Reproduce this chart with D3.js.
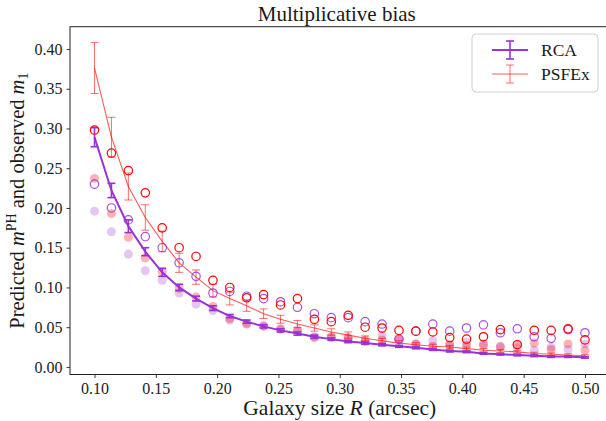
<!DOCTYPE html>
<meta charset='utf-8'>
<style>
  body { margin: 0; background: #fff; }
  text { font-family: "Liberation Serif", "DejaVu Serif", serif; fill: #1a1a1a; }
</style>

<svg width="606" height="421"></svg>

<script src="https://d3js.org/d3.v7.min.js"></script>
<script>

// galaxy size R (arcsec)
var sizes = [0.1000, 0.1138, 0.1276, 0.1414, 0.1552, 0.1690, 0.1828, 0.1966, 0.2103, 0.2241,
             0.2379, 0.2517, 0.2655, 0.2793, 0.2931, 0.3069, 0.3207, 0.3345, 0.3483, 0.3621,
             0.3759, 0.3897, 0.4034, 0.4172, 0.4310, 0.4448, 0.4586, 0.4724, 0.4862, 0.5000];

// predicted m^PH, RCA
var rcaPred = [0.289, 0.222, 0.177, 0.145, 0.119, 0.100, 0.086, 0.074, 0.064, 0.057,
               0.051, 0.046, 0.042, 0.038, 0.035, 0.032, 0.030, 0.028, 0.026, 0.024,
               0.022, 0.020, 0.019, 0.017, 0.016, 0.015, 0.014, 0.013, 0.013, 0.012];
var rcaErr  = [0.012, 0.009, 0.008, 0.005, 0.005, 0.004, 0.003, 0.003, 0.002, 0.002,
               0.002, 0.002, 0.002, 0.002, 0.0015, 0.0015, 0.0015, 0.0015, 0.0012, 0.0012,
               0.0012, 0.0012, 0.001, 0.001, 0.001, 0.001, 0.001, 0.001, 0.001, 0.001];

// predicted m^PH, PSFEx
var psfPred = [0.376, 0.289, 0.227, 0.188, 0.158, 0.131, 0.113, 0.096, 0.086, 0.077,
               0.067, 0.060, 0.054, 0.049, 0.044, 0.040, 0.036, 0.033, 0.030, 0.028,
               0.026, 0.025, 0.023, 0.021, 0.020, 0.019, 0.017, 0.016, 0.015, 0.014];
var psfErr  = [0.032, 0.025, 0.017, 0.016, 0.013, 0.012, 0.009, 0.008, 0.008, 0.007,
               0.006, 0.005, 0.0045, 0.004, 0.004, 0.004, 0.003, 0.003, 0.003, 0.0025,
               0.0025, 0.002, 0.002, 0.002, 0.002, 0.0015, 0.0015, 0.0015, 0.0015, 0.0015];

// observed m_1 (open markers)
var rcaObs = [0.230, 0.200, 0.185, 0.164, 0.150, 0.131, 0.114, 0.093, 0.095, 0.089,
              0.086, 0.082, 0.075, 0.067, 0.062, 0.062, 0.057, 0.054, 0.035, 0.045,
              0.054, 0.045, 0.049, 0.053, 0.043, 0.048, 0.038, 0.036, 0.047, 0.043];
var psfObs = [0.298, 0.269, 0.247, 0.219, 0.175, 0.150, 0.139, 0.109, 0.100, 0.087,
              0.091, 0.078, 0.086, 0.060, 0.057, 0.065, 0.050, 0.049, 0.046, 0.045,
              0.044, 0.037, 0.035, 0.038, 0.047, 0.028, 0.046, 0.046, 0.048, 0.034];

// observed m_1 (faint filled markers)
var rcaObs2 = [0.196, 0.170, 0.142, 0.121, 0.109, 0.093, 0.079, 0.071, 0.059, 0.055,
               0.052, 0.047, 0.047, 0.038, 0.037, 0.037, 0.032, 0.040, 0.035, 0.029,
               0.033, 0.028, 0.031, 0.029, 0.026, 0.024, 0.021, 0.025, 0.022, 0.029];
var psfObs2 = [0.237, 0.193, 0.163, 0.137, 0.120, 0.099, 0.088, 0.076, 0.061, 0.054,
               0.051, 0.048, 0.045, 0.037, 0.038, 0.036, 0.034, 0.034, 0.034, 0.029,
               0.026, 0.028, 0.027, 0.027, 0.025, 0.028, 0.030, 0.022, 0.029, 0.021];

var xTicks = [0.10, 0.15, 0.20, 0.25, 0.30, 0.35, 0.40, 0.45, 0.50];
var yTicks = [0.00, 0.05, 0.10, 0.15, 0.20, 0.25, 0.30, 0.35, 0.40];

var purple = "#9a32d6",
    red = "#ff0000";

var svg = d3.select("svg");

var x = d3.scaleLinear().domain([0.08, 0.52]).range([70, 609.5]);
var y = d3.scaleLinear().domain([-0.0095, 0.428]).range([374.5, 26.7]);

var x0 = x.range()[0], x1 = x.range()[1],
    yb = y.range()[0], yt = y.range()[1];

var g = svg.append("g");

// faint filled markers
g.selectAll(".rca2").data(sizes).enter().append("circle")
  .attr("cx", d => x(d)).attr("cy", (d, i) => y(rcaObs2[i]))
  .attr("r", 4.5).attr("fill", purple).attr("fill-opacity", 0.28);
g.selectAll(".psf2").data(sizes).enter().append("circle")
  .attr("cx", d => x(d)).attr("cy", (d, i) => y(psfObs2[i]))
  .attr("r", 4.5).attr("fill", red).attr("fill-opacity", 0.3);

// error bar series
function errSeries(vals, errs, color, lw, op) {
  var s = g.append("g").attr("stroke", color).attr("stroke-opacity", op).attr("fill", "none");
  s.append("path")
    .datum(sizes)
    .attr("d", d3.line().x(d => x(d)).y((d, i) => y(vals[i])))
    .attr("stroke-width", lw);
  sizes.forEach(function(d, i) {
    var cx = x(d), lo = y(vals[i] - errs[i]), hi = y(vals[i] + errs[i]);
    s.append("line").attr("x1", cx).attr("x2", cx).attr("y1", lo).attr("y2", hi).attr("stroke-width", lw * 0.8);
    s.append("line").attr("x1", cx - 4).attr("x2", cx + 4).attr("y1", lo).attr("y2", lo).attr("stroke-width", lw * 0.8);
    s.append("line").attr("x1", cx - 4).attr("x2", cx + 4).attr("y1", hi).attr("y2", hi).attr("stroke-width", lw * 0.8);
  });
}
errSeries(psfPred, psfErr, red, 1.1, 0.65);
errSeries(rcaPred, rcaErr, purple, 2, 1);

// open markers
g.selectAll(".rca1").data(sizes).enter().append("circle")
  .attr("cx", d => x(d)).attr("cy", (d, i) => y(rcaObs[i]))
  .attr("r", 4.2).attr("fill", "none").attr("stroke", purple).attr("stroke-opacity", 0.85).attr("stroke-width", 1.2);
g.selectAll(".psf1").data(sizes).enter().append("circle")
  .attr("cx", d => x(d)).attr("cy", (d, i) => y(psfObs[i]))
  .attr("r", 4.2).attr("fill", "none").attr("stroke", red).attr("stroke-width", 1.2);

// axes
var xAxis = svg.append("g").attr("transform", "translate(0," + yb + ")")
  .call(d3.axisBottom(x).tickValues(xTicks).tickFormat(d3.format(".2f")).tickSize(3.5).tickPadding(5));
var yAxis = svg.append("g").attr("transform", "translate(" + x0 + ",0)")
  .call(d3.axisLeft(y).tickValues(yTicks).tickFormat(d3.format(".2f")).tickSize(3.5).tickPadding(4));
[xAxis, yAxis].forEach(function(a) {
  a.select(".domain").remove();
  a.selectAll("line").attr("stroke", "#222").attr("stroke-width", 0.9);
  a.selectAll("text")
    .style("font-family", "'Liberation Serif', serif")
    .style("font-size", "16px")
    .style("fill", "#222");
});

// frame
svg.append("rect").attr("x", x0).attr("y", yt).attr("width", x1 - x0).attr("height", yb - yt)
  .attr("fill", "none").attr("stroke", "#222").attr("stroke-width", 1);

// title and labels
svg.append("text").attr("x", (x0 + x1) / 2 - 3).attr("y", 21).attr("text-anchor", "middle")
  .attr("font-size", 21).text("Multiplicative bias");

var xl = svg.append("text").attr("x", (x0 + x1) / 2).attr("y", 415).attr("text-anchor", "middle").attr("font-size", 21.5);
xl.append("tspan").text("Galaxy size ");
xl.append("tspan").attr("font-style", "italic").text("R");
xl.append("tspan").text(" (arcsec)");

var yl = svg.append("text").attr("transform", "translate(24," + ((yb + yt) / 2) + ") rotate(-90)")
  .attr("text-anchor", "middle").attr("font-size", 20.5);
yl.append("tspan").text("Predicted ");
yl.append("tspan").attr("font-style", "italic").text("m");
yl.append("tspan").attr("font-size", 14).attr("dy", -8).text("PH");
yl.append("tspan").attr("dy", 8).text(" and observed ");
yl.append("tspan").attr("font-style", "italic").text("m");
yl.append("tspan").attr("font-size", 14).attr("dy", 4).text("1");

// legend
var lg = svg.append("g").attr("transform", "translate(472,34)");
lg.append("rect").attr("width", 126).attr("height", 58).attr("rx", 4)
  .attr("fill", "#fff").attr("fill-opacity", 0.8).attr("stroke", "#d0d0d0");
var legendItems = [
  {name: "RCA", color: purple, lw: 2, op: 1},
  {name: "PSFEx", color: red, lw: 1.1, op: 0.65}
];
legendItems.forEach(function(it, i) {
  var cy = 16 + i * 24;
  var e = lg.append("g").attr("stroke", it.color).attr("stroke-opacity", it.op);
  e.append("line").attr("x1", 20).attr("x2", 56).attr("y1", cy).attr("y2", cy).attr("stroke-width", it.lw);
  e.append("line").attr("x1", 38).attr("x2", 38).attr("y1", cy - 9).attr("y2", cy + 9).attr("stroke-width", it.lw * 0.8);
  e.append("line").attr("x1", 34).attr("x2", 42).attr("y1", cy - 9).attr("y2", cy - 9).attr("stroke-width", it.lw * 0.8);
  e.append("line").attr("x1", 34).attr("x2", 42).attr("y1", cy + 9).attr("y2", cy + 9).attr("stroke-width", it.lw * 0.8);
  lg.append("text").attr("x", 69).attr("y", cy + 6).attr("font-size", 17.5).text(it.name);
});

</script>
